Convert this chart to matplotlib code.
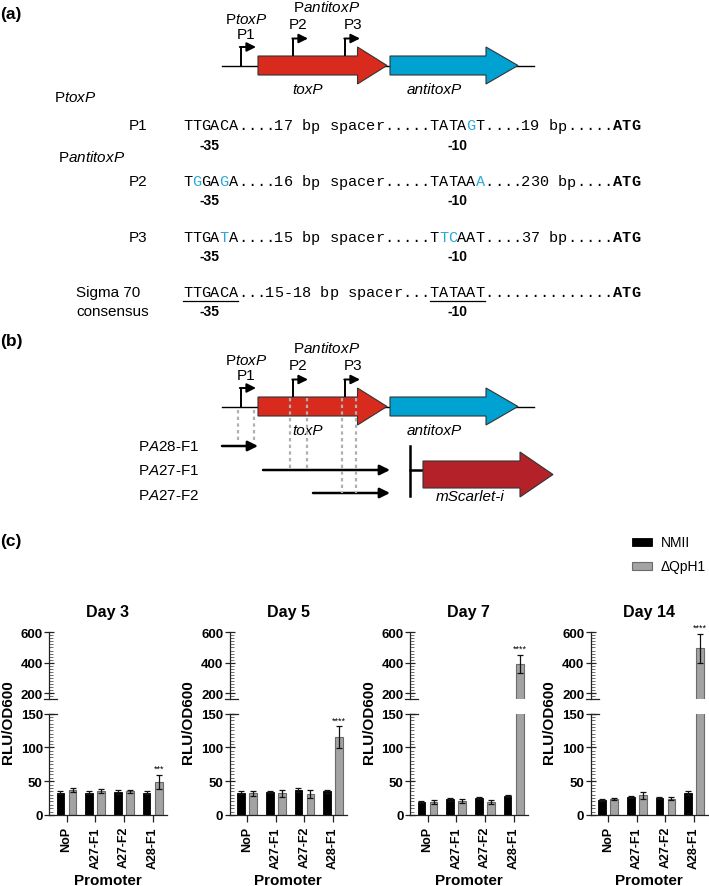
import numpy as np
import matplotlib
matplotlib.use('Agg')
import matplotlib.pyplot as plt
from matplotlib.patches import Polygon, Rectangle
from matplotlib.ticker import MultipleLocator

plt.rcParams['font.family'] = ['Liberation Sans', 'DejaVu Sans']
plt.rcParams['mathtext.fontset'] = 'custom'
plt.rcParams['mathtext.rm'] = 'Liberation Sans'
plt.rcParams['mathtext.it'] = 'Liberation Sans:italic'
plt.rcParams['mathtext.bf'] = 'Liberation Sans:bold'

# ---- data (c) ----
days = ['Day 3', 'Day 5', 'Day 7', 'Day 14']
promoters = ['NoP', 'A27-F1', 'A27-F2', 'A28-F1']
nmii_mean = [[33, 33, 34, 33], [33, 34, 37, 35], [19, 23, 25, 28], [22, 26, 25, 32]]
nmii_err = [[2, 2.5, 2.5, 2.5], [2, 2, 3, 2], [2, 2, 1.5, 1.5], [2, 1.5, 2, 3]]
qph1_mean = [[37, 36, 35, 49], [32, 32, 31, 115], [19, 20, 19, 393], [24, 29, 24, 494]]
qph1_err = [[3, 3, 2.5, 10], [3.5, 5, 6, 16], [3, 3, 3, 60], [1.5, 5, 2, 93]]
stars = ['***', '****', '****', '****']
series_names = ['NMII', '\u0394QpH1']

# ---- sequences (a) ----
seq_rows = ['TTGACA....17 bp spacer.....TATAGT....19 bp.....ATG',
            'TGGAGA....16 bp spacer.....TATAAA....230 bp....ATG',
            'TTGATA....15 bp spacer.....TTCAAT....37 bp.....ATG',
            'TTGACA...15-18 bp spacer...TATAAT..............ATG']
seq_blue = [[31], [1, 4, 32], [4, 28, 29], []]
seq_labels = ['P1', 'P2', 'P3', '']

W, H = 709, 887
fig = plt.figure(figsize=(W / 100, H / 100), dpi=100)

# overlay in pixel coords for the schematic parts
bg = fig.add_axes([0, 0, 1, 1])
bg.set_xlim(0, W)
bg.set_ylim(H, 0)
bg.axis('off')

red = '#d92b1d'
blue = '#00a2d2'
scarlet = '#b52129'
cyan = '#27a9da'


def gene(x0, x1, xtip, ym, bh, hh, color):
    verts = [(x0, ym - bh), (x1, ym - bh), (x1, ym - hh), (xtip, ym),
             (x1, ym + hh), (x1, ym + bh), (x0, ym + bh)]
    bg.add_patch(Polygon(verts, closed=True, fc=color, ec='#333333', lw=0.8, zorder=3))


def arrow(x0, x1, y, lw=1.8, ms=10):
    bg.annotate('', xy=(x1, y), xytext=(x0, y),
                arrowprops=dict(arrowstyle='-|>,head_length=0.6,head_width=0.3', lw=lw,
                                color='k', shrinkA=0, shrinkB=0, mutation_scale=ms), zorder=4)


def promoter(x, y0, y1, x1):
    bg.plot([x, x], [y0, y1], color='k', lw=1.4, zorder=4, solid_capstyle='butt')
    arrow(x - 0.7, x1, y1, lw=1.4, ms=9)


def cluster(dy):
    bg.plot([222, 534], [67 + dy, 67 + dy], color='k', lw=1, zorder=2)
    gene(258, 357.5, 387, 66.5 + dy, 9.5, 18.5, red)
    gene(390, 486, 518, 66.5 + dy, 9.5, 18.5, blue)
    promoter(240.5, 67 + dy, 48 + dy, 256)
    promoter(293, 57 + dy, 39.5 + dy, 308)
    promoter(345, 57 + dy, 39.5 + dy, 360)
    bg.text(308, 90 + dy, 'toxP', style='italic', fontsize=11, ha='center', va='center')
    bg.text(434, 90 + dy, 'antitoxP', style='italic', fontsize=11, ha='center', va='center')
    bg.text(246.5, 20 + dy, r'P$\mathit{toxP}$', fontsize=11, ha='center', va='center')
    bg.text(327, 7.5 + dy, r'P$\mathit{antitoxP}$', fontsize=11, ha='center', va='center')
    bg.text(246.5, 35 + dy, 'P1', fontsize=11, ha='center', va='center')
    bg.text(298, 25 + dy, 'P2', fontsize=11, ha='center', va='center')
    bg.text(353, 25 + dy, 'P3', fontsize=11, ha='center', va='center')


# ---- (a) ----
bg.text(0, 15, '(a)', fontsize=12.5, weight='bold', ha='left', va='center')
cluster(0)
bg.text(54, 98, r'P$\mathit{toxP}$', fontsize=11, ha='left', va='center')
bg.text(58, 157, r'P$\mathit{antitoxP}$', fontsize=11, ha='left', va='center')

x0 = 183
fs = 10.97
cw = 0.6 * fs * 100 / 72
row_y = [126, 182, 238, 293]
for seq, blues, lab, y in zip(seq_rows, seq_blue, seq_labels, row_y):
    for i, ch in enumerate(seq):
        bg.text(x0 + i * cw + cw / 2, y + 4.5, ch, family='Liberation Mono', fontsize=fs,
                color=cyan if i in blues else 'k', weight='bold' if i >= 47 else 'normal',
                ha='center', va='baseline')
    if lab:
        bg.text(147, y, lab, fontsize=11, ha='right', va='center')
    bg.text(x0 + 3 * cw - 1, y + 19.5, '-35', fontsize=10, weight='bold', ha='center', va='center')
    bg.text(x0 + 30 * cw, y + 19.5, '-10', fontsize=10, weight='bold', ha='center', va='center')
bg.text(76, 293, 'Sigma 70', fontsize=11, ha='left', va='center')
bg.text(76, 312, 'consensus', fontsize=11, ha='left', va='center')
bg.plot([x0, x0 + 6 * cw], [302, 302], color='k', lw=0.9)
bg.plot([x0 + 27 * cw, x0 + 33 * cw], [302, 302], color='k', lw=0.9)

# ---- (b) ----
dy = 341
bg.text(0, 342, '(b)', fontsize=12.5, weight='bold', ha='left', va='center')
cluster(dy)
dot = dict(color='#b0b0b0', lw=1.6, ls=(0, (1.5, 1.5)), zorder=5)
bg.plot([237.5, 237.5], [411, 443], **dot)
bg.plot([254, 254], [411, 443], **dot)
bg.plot([290, 290], [399, 471], **dot)
bg.plot([307, 307], [399, 471], **dot)
bg.plot([341.5, 341.5], [399, 494], **dot)
bg.plot([356, 356], [399, 494], **dot)
arrow(222, 258, 447)
arrow(263, 390, 471)
arrow(313, 390, 494)
bg.text(138, 447, r'P$\mathit{A28}$-F1', fontsize=11, ha='left', va='center')
bg.text(138, 471, r'P$\mathit{A27}$-F1', fontsize=11, ha='left', va='center')
bg.text(138, 496, r'P$\mathit{A27}$-F2', fontsize=11, ha='left', va='center')
bg.plot([409.5, 409.5], [447, 497], color='k', lw=1.8)
bg.plot([409.5, 423], [471, 471], color='k', lw=1.8)
gene(423, 520, 553, 475.5, 13.5, 22.5, scarlet)
bg.text(470, 497, 'mScarlet-i', style='italic', fontsize=11, ha='center', va='center')

# ---- (c) ----
bg.text(0, 542, '(c)', fontsize=12.5, weight='bold', ha='left', va='center')
bg.add_patch(Rectangle((632, 539), 20, 8, fc='black', ec='black', lw=0.6))
bg.add_patch(Rectangle((632, 563), 20, 8, fc='#a3a3a3', ec='#6b6b6b', lw=0.8))
bg.text(661, 543, series_names[0], fontsize=10, ha='left', va='center')
bg.text(661, 567, series_names[1], fontsize=10, ha='left', va='center')

lefts = [49, 229.5, 410, 590.5]
aw = 117.7
lo_top, lo_bot = 714.5, 816
hi_top, hi_bot = 633.3, 699.5
x = np.arange(len(promoters))
bw, off = 0.27, 0.21
tickfont = dict(family='Liberation Sans', weight='bold', size=9)

for i, left in enumerate(lefts):
    ax_lo = fig.add_axes([left / W, 1 - lo_bot / H, aw / W, (lo_bot - lo_top) / H])
    ax_hi = fig.add_axes([left / W, 1 - hi_bot / H, aw / W, (hi_bot - hi_top) / H])
    for ax in (ax_lo, ax_hi):
        ax.patch.set_alpha(0)
        ax.bar(x - off, nmii_mean[i], width=bw, color='black', edgecolor='black', lw=0.6, zorder=2)
        ax.bar(x + off, qph1_mean[i], width=bw, color='#a3a3a3', edgecolor='#6b6b6b', lw=0.8, zorder=2)
        ax.errorbar(x - off, nmii_mean[i], yerr=nmii_err[i], fmt='none', ecolor='#111111',
                    elinewidth=0.9, capsize=2.5, capthick=0.9, zorder=3)
        ax.errorbar(x + off, qph1_mean[i], yerr=qph1_err[i], fmt='none', ecolor='#111111',
                    elinewidth=0.9, capsize=2.5, capthick=0.9, zorder=3)
        ax.set_xlim(-0.61, 3.49)
        ax.spines['top'].set_visible(False)
        ax.spines['right'].set_visible(False)
        for s in ('left', 'bottom'):
            ax.spines[s].set_linewidth(0.9)
            ax.spines[s].set_color('#222222')
        ax.tick_params(axis='y', which='major', direction='inout', length=7, width=0.9,
                       color='#222222', pad=1)
        ax.tick_params(axis='y', which='minor', direction='in', length=3, width=0.6,
                       color='#555555')
    ax_lo.set_ylim(0, 150)
    ax_lo.yaxis.set_major_locator(MultipleLocator(50))
    ax_lo.yaxis.set_minor_locator(MultipleLocator(5))
    ax_hi.set_ylim(164, 600)
    ax_hi.set_yticks([200, 400, 600])
    ax_hi.yaxis.set_minor_locator(MultipleLocator(20))
    ax_hi.spines['bottom'].set_visible(False)
    ax_hi.set_xticks([])
    ax_hi.plot([-0.04, 0.07], [0, 0], transform=ax_hi.transAxes, color='#222222',
               lw=0.9, clip_on=False)
    ax_lo.plot([0, 0.07], [1, 1], transform=ax_lo.transAxes, color='#222222',
               lw=0.9, clip_on=False)
    ax_lo.set_xticks(x)
    ax_lo.set_xticklabels(promoters, rotation=90, fontdict=tickfont)
    ax_lo.tick_params(axis='x', direction='out', length=5, width=0.9, color='#222222', pad=3)
    for ax in (ax_lo, ax_hi):
        for lab in ax.get_yticklabels():
            lab.set_fontweight('bold')
            lab.set_fontsize(9.5)

    top = qph1_mean[i][3] + qph1_err[i][3]
    sax = ax_hi if top > 164 else ax_lo
    sax.annotate(stars[i], xy=(3 + off, top), xytext=(0, 1.5), textcoords='offset points',
                 ha='center', va='bottom', fontsize=6.5, annotation_clip=False)

    cx = (left + aw / 2) / W
    fig.text(cx, 1 - 612 / H, days[i], fontsize=11.5, weight='bold', ha='center', va='center')
    fig.text(cx, 1 - 881 / H, 'Promoter', fontsize=11, weight='bold', ha='center', va='center')
    fig.text((left - 41) / W, 1 - 722 / H, 'RLU/OD600', fontsize=11, weight='bold',
             rotation=90, ha='center', va='center')

fig.savefig('out.png', dpi=100)
